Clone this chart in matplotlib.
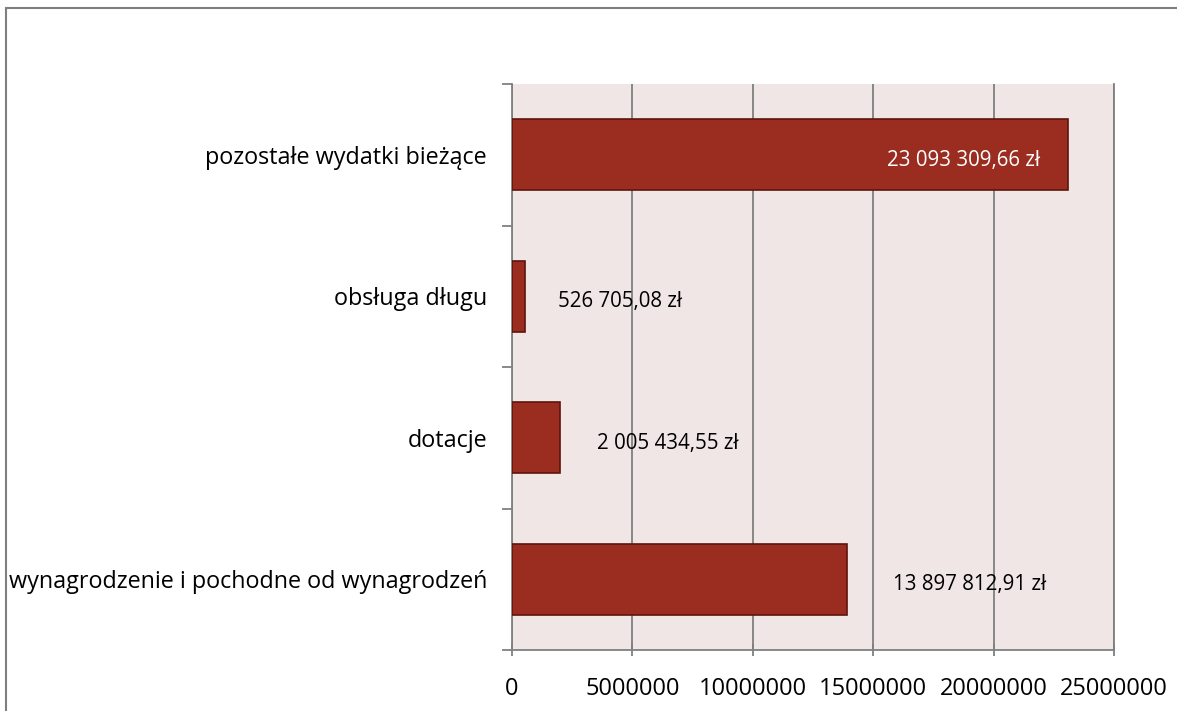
import matplotlib.pyplot as plt
from matplotlib.patches import Rectangle

# Dane wydatków
kategorie = ['wynagrodzenie i pochodne od wynagrodzeń', 'dotacje', 'obsługa długu',
             'pozostałe wydatki bieżące']
wartosci = [13897812.91, 2005434.55, 526705.08, 23093309.66]
etykiety = ['13 897 812,91 zł', '2 005 434,55 zł', '526 705,08 zł', '23 093 309,66 zł']
pozycje_etykiet = [19.0e6, 6.45e6, 4.5e6, 18.75e6]
kolory_etykiet = ['black', 'black', 'black', 'white']
ticki_x = [0, 5000000, 10000000, 15000000, 20000000, 25000000]

plt.rcParams['font.family'] = ['Open Sans', 'DejaVu Sans']

fig = plt.figure(figsize=(11.77, 7.11), dpi=100)
ax = fig.add_axes([512 / 1177, 1 - 650 / 711, 602 / 1177, 566 / 711])

ax.set_facecolor('#EFE6E5')
y = range(len(kategorie))
ax.barh(y, wartosci, height=0.5, color='#9A2C20', edgecolor='#5E150C', linewidth=1.2, zorder=3)

for yi, tekst, xpos, kol in zip(y, etykiety, pozycje_etykiet, kolory_etykiet):
    ax.text(xpos, yi - 0.04, tekst, ha='center', va='center', fontsize=14.8, color=kol, zorder=4)

ax.set_xlim(0, 25000000)
ax.set_ylim(-0.5, len(kategorie) - 0.5)
ax.set_xticks(ticki_x)
ax.set_xticklabels([str(t) for t in ticki_x], fontsize=17)
ax.set_yticks(list(y))
ax.set_yticklabels(kategorie, fontsize=16.8)
ax.set_yticks([i - 0.5 for i in range(len(kategorie) + 1)], minor=True)
ax.tick_params(axis='y', which='major', length=0, pad=18)
ax.tick_params(axis='y', which='minor', length=7, color='#808080', width=1.3)
ax.tick_params(axis='x', length=8, color='#808080', width=1.3, pad=15.5, direction='inout')
ax.grid(axis='x', color='#808080', linewidth=1.3, zorder=1)

ax.spines['top'].set_visible(False)
for s in ['left', 'bottom', 'right']:
    ax.spines[s].set_color('#808080')
    ax.spines[s].set_linewidth(1.3)

# ramka wokół wykresu
fig.patches.append(Rectangle((6 / 1177, -0.1), 1.2, 1.1 - 7.5 / 711, transform=fig.transFigure,
                             fill=False, edgecolor='#7F7F7F', linewidth=1.5))

fig.savefig('out.png', dpi=100)
